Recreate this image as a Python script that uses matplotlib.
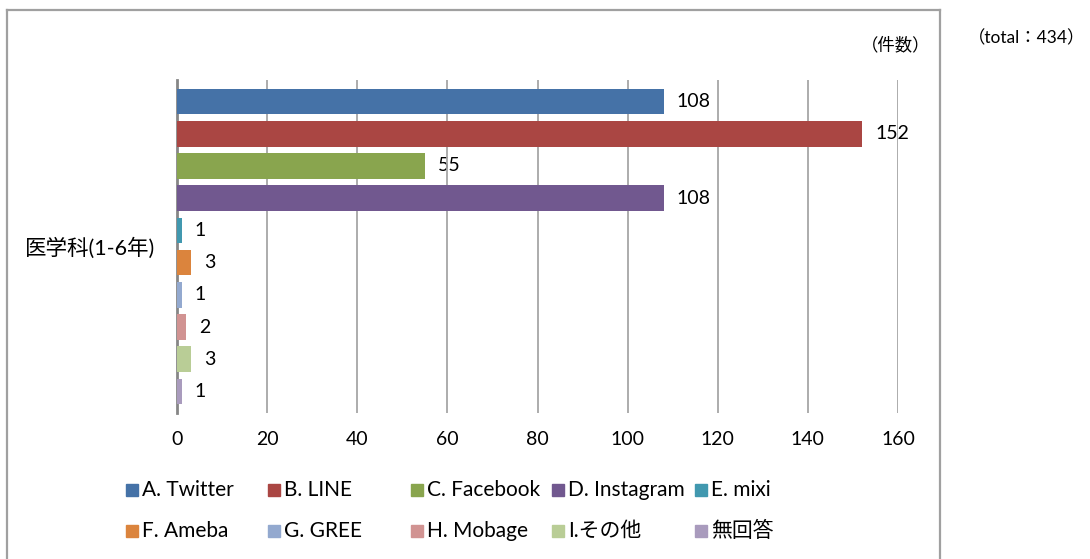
import matplotlib
matplotlib.use('Agg')
import matplotlib.pyplot as plt
from matplotlib.lines import Line2D
from matplotlib.patches import Rectangle

# データ
categories = ['A. Twitter', 'B. LINE', 'C. Facebook', 'D. Instagram', 'E. mixi',
              'F. Ameba', 'G. GREE', 'H. Mobage', 'I.その他', '無回答']
counts = [108, 152, 55, 108, 1, 3, 1, 2, 3, 1]
colors = ['#4572A7', '#AA4643', '#89A54E', '#71588F', '#4198AF',
          '#DB843D', '#93A9CF', '#D19392', '#B9CD96', '#A99BBD']
group_label = '医学科(1-6年)'
x_ticks = [0, 20, 40, 60, 80, 100, 120, 140, 160]

plt.rcParams['font.family'] = ['Lato', 'Noto Sans CJK JP', 'DejaVu Sans']

W, H = 1090, 559
fig = plt.figure(figsize=(W / 100, H / 100), dpi=100)
ax = fig.add_axes([177 / W, 1 - 413 / H, (898 - 177) / W, (413 - 80) / H])

# 棒グラフ
pos = list(range(len(counts)))
bars = ax.barh(pos, counts, height=0.8, color=colors, zorder=3)
ax.bar_label(bars, padding=9.5, fontsize=14, zorder=1)

ax.set_xlim(0, 160)
ax.set_ylim(len(counts) - 1 + 0.67, -0.67)
ax.set_xticks(x_ticks)
ax.set_yticks([(len(counts) - 1) / 2])
ax.set_yticklabels([group_label], fontsize=15.5)
ax.grid(axis='x', color='#a6a6a6', lw=1.3, zorder=0)
for s in ['top', 'right', 'bottom']:
    ax.spines[s].set_visible(False)
ax.spines['left'].set_color('#868686')
ax.spines['left'].set_linewidth(2)
ax.tick_params(axis='x', length=0, pad=13, labelsize=14)
ax.tick_params(axis='y', length=0, pad=16)

# 凡例 (行優先)
leg_x = [126, 268, 411, 552, 695]
for i, (lab, c) in enumerate(zip(categories, colors)):
    row, col = divmod(i, 5)
    xp = leg_x[col]
    yp = 490 + 41 * row
    fig.add_artist(Rectangle((xp / W, 1 - (yp + 6) / H), 12 / W, 12 / H,
                             color=c, transform=fig.transFigure))
    fig.text((xp + 16) / W, 1 - yp / H, lab, va='center', ha='left', fontsize=15)

# 単位・合計
fig.text(896 / W, 1 - 45 / H, '（件数）', ha='center', va='center', fontsize=12.5)
fig.text(1027 / W, 1 - 38 / H, '（total：434）', ha='center', va='center', fontsize=12.5)

# 外枠
frame = dict(transform=fig.transFigure, color='#a0a0a0', lw=1.6)
fig.add_artist(Line2D([7 / W, 7 / W], [0, 1 - 10 / H], **frame))
fig.add_artist(Line2D([7 / W, 940 / W], [1 - 10 / H, 1 - 10 / H], **frame))
fig.add_artist(Line2D([940 / W, 940 / W], [0, 1 - 10 / H], **frame))

fig.savefig('out.png', dpi=100)
